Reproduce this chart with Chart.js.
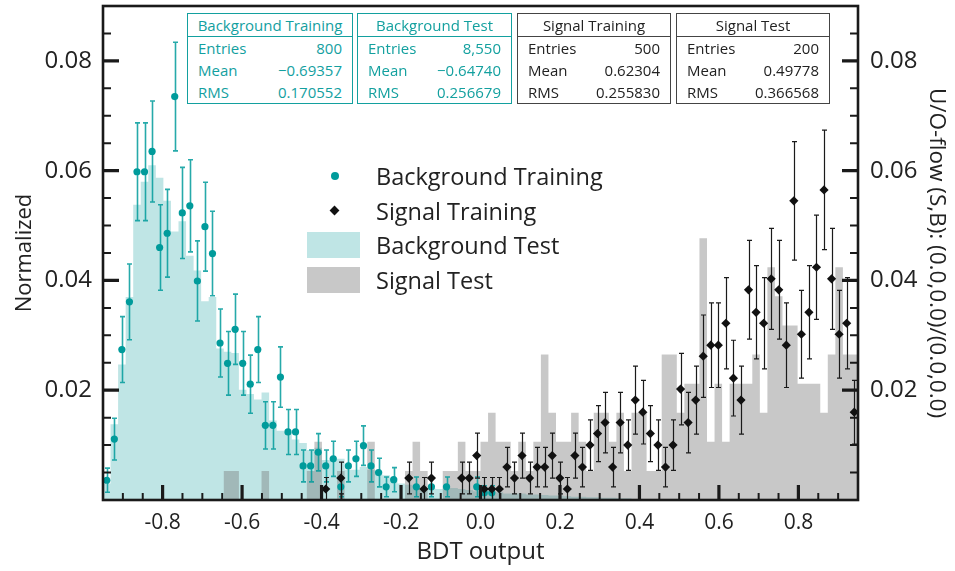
<!DOCTYPE html>
<html>
<head>
<meta charset="utf-8">
<script src="https://cdn.jsdelivr.net/npm/chart.js@4.4.1/dist/chart.umd.min.js"></script>
<style>
  body { margin: 0; background: #fff; }
  #wrap { position: relative; width: 955px; height: 571px; font-family: "Open Sans", sans-serif; color: #222; }
  #c { position: absolute; left: 0; top: 0; }
  .stat { position: absolute; top: 13px; height: 91px; box-sizing: border-box; background: #fff; font-size: 15px; line-height: 1; }
  .stat .hd { height: 23px; box-sizing: border-box; text-align: center; line-height: 22px; }
  .stat .row { display: flex; justify-content: space-between; height: 22px; line-height: 22px; padding: 0 10px 0 10px; }
  .teal { border: 1.5px solid #13a09f; color: #13a09f; }
  .teal .hd { border-bottom: 1.5px solid #13a09f; }
  .dark { border: 1.5px solid #444; color: #222; }
  .dark .hd { border-bottom: 1.5px solid #444; }
  .leg { position: absolute; left: 376px; font-size: 23.5px; line-height: 26px; height: 26px; color: #222; white-space: nowrap; }
  .mk { position: absolute; }
</style>
</head>
<body>
<div id="wrap">
  <canvas id="c" width="955" height="571"></canvas>

  <div class="stat teal" style="left:187px;width:166px;">
    <div class="hd">Background Training</div>
    <div class="row"><span>Entries</span><span>800</span></div>
    <div class="row"><span>Mean</span><span>&minus;0.69357</span></div>
    <div class="row"><span>RMS</span><span>0.170552</span></div>
  </div>
  <div class="stat teal" style="left:357px;width:155px;">
    <div class="hd">Background Test</div>
    <div class="row"><span>Entries</span><span>8,550</span></div>
    <div class="row"><span>Mean</span><span>&minus;0.64740</span></div>
    <div class="row"><span>RMS</span><span>0.256679</span></div>
  </div>
  <div class="stat dark" style="left:517px;width:154px;">
    <div class="hd">Signal Training</div>
    <div class="row"><span>Entries</span><span>500</span></div>
    <div class="row"><span>Mean</span><span>0.62304</span></div>
    <div class="row"><span>RMS</span><span>0.255830</span></div>
  </div>
  <div class="stat dark" style="left:676px;width:154px;">
    <div class="hd">Signal Test</div>
    <div class="row"><span>Entries</span><span>200</span></div>
    <div class="row"><span>Mean</span><span>0.49778</span></div>
    <div class="row"><span>RMS</span><span>0.366568</span></div>
  </div>

  <div class="mk" style="left:331px;top:172px;width:8px;height:8px;border-radius:50%;background:#009b9b;"></div>
  <div class="leg" style="top:163px;">Background Training</div>
  <div class="mk" style="left:331px;top:207px;width:7px;height:7px;background:#111;transform:rotate(45deg);"></div>
  <div class="leg" style="top:198px;">Signal Training</div>
  <div class="mk" style="left:307px;top:232px;width:53px;height:26px;background:rgba(0,150,150,0.25);"></div>
  <div class="leg" style="top:232px;">Background Test</div>
  <div class="mk" style="left:307px;top:267px;width:53px;height:26px;background:rgba(110,110,110,0.38);"></div>
  <div class="leg" style="top:267px;">Signal Test</div>
</div>

<script>
//Histogram binning of the BDT output
const xMin = -0.95;
const xMax = 0.95;
const binWidth = 0.019;

//Tick labels
const xTickValues = [-0.8, -0.6, -0.4, -0.2, 0, 0.2, 0.4, 0.6, 0.8];
const yTickValues = [0.02, 0.04, 0.06, 0.08];

//Background test (filled teal histogram), one value per bin
const bgTest = [
  0.003, 0.0138, 0.0247, 0.037, 0.0538, 0.058, 0.061, 0.0587, 0.0545, 0.0489,
  0.0508, 0.0445, 0.0418, 0.0362, 0.037, 0.0276, 0.027, 0.0268, 0.0201, 0.0193,
  0.0183, 0.0196, 0.0145, 0.0126, 0.0125, 0.011, 0.0104, 0.0091, 0.0095, 0.0073,
  0.0076, 0.0075, 0.0055, 0.0055, 0.006, 0.0055, 0.0053, 0.0045, 0.004, 0.003,
  0.0028, 0.0025, 0.0022, 0.0022, 0.002, 0.0025, 0.0022, 0.002, 0.0018, 0.0016,
  0.0015, 0.0015, 0.0014, 0.0012, 0.0012, 0.0012, 0.001, 0.001, 0.0009, 0.0008,
  0.0008, 0.0007, 0.0006, 0.0006, 0.0005, 0.0005, 0.0004, 0.0004, 0.0003, 0.0003,
  0.0002, 0.0001, 0.0001, 0.0001, 0.0001, 0, 0, 0, 0, 0,
  0, 0, 0, 0, 0, 0, 0, 0, 0, 0,
  0, 0, 0, 0, 0, 0, 0, 0, 0, 0
];

//Signal test (filled grey histogram)
const sigTest = [
  0, 0, 0, 0, 0, 0, 0, 0, 0, 0,
  0, 0, 0, 0, 0, 0, 0.0053, 0.0053, 0, 0,
  0, 0.0053, 0, 0, 0, 0, 0, 0.0053, 0.0106, 0,
  0, 0.0053, 0, 0, 0, 0.0106, 0, 0, 0, 0,
  0.0053, 0.0106, 0.0053, 0, 0, 0.0053, 0.0053, 0.0106, 0.0053, 0.0053,
  0.0106, 0.0159, 0.0106, 0.0106, 0.0053, 0.0106, 0.0053, 0.0106, 0.0265, 0.0159,
  0.0106, 0.0106, 0.0159, 0.0106, 0.0053, 0.0159, 0.0159, 0.0106, 0.0159, 0.0053,
  0.0159, 0.0159, 0.0053, 0.0053, 0.0265, 0.0265, 0.0159, 0.0212, 0.0212, 0.0477,
  0.0106, 0.0212, 0.0106, 0.0212, 0.0212, 0.0212, 0.0265, 0.0159, 0.0424, 0.0371,
  0.0318, 0.0318, 0.0212, 0.0212, 0.0212, 0.0159, 0.0265, 0.0424, 0.0265, 0.0265
];

//Background training (teal points), null = empty bin
const bgTrain = [
  0.0036, 0.0111, 0.0274, 0.0361, 0.0598, 0.0598, 0.0635, 0.046, 0.0486, 0.0735,
  0.0523, 0.0536, 0.0399, 0.0498, 0.0449, 0.0286, 0.0249, 0.0311, 0.0249, 0.0211,
  0.0274, 0.0136, 0.0136, 0.0224, 0.0124, 0.0124, 0.0062, 0.0062, 0.0087, 0.0062,
  0.0075, 0.0024, 0.0062, 0.0075, 0.0099, 0.0062, 0.005, 0.0024, 0.0037, null,
  null, 0.0024, null, 0.0024, null, 0.0024, null, null, null, 0.0024,
  0.0013, 0.0013, null, null, null, null, null, null, null, null,
  null, null, null, null, null, null, null, null, null, null,
  null, null, null, null, null, null, null, null, null, null,
  null, null, null, null, null, null, null, null, null, null,
  null, null, null, null, null, null, null, null, null, null
];
const bgTrainErr = [
  0.0022, 0.0038, 0.006, 0.0069, 0.0089, 0.0089, 0.0092, 0.0078, 0.008, 0.0099,
  0.0083, 0.0084, 0.0073, 0.0081, 0.0077, 0.0062, 0.0058, 0.0064, 0.0058, 0.0053,
  0.006, 0.0043, 0.0043, 0.0055, 0.0041, 0.0041, 0.0029, 0.0029, 0.0034, 0.0029,
  0.0032, 0.0018, 0.0029, 0.0032, 0.0036, 0.0029, 0.0026, 0.0018, 0.0022, null,
  null, 0.0018, null, 0.0018, null, 0.0018, null, null, null, 0.0018,
  0.0013, 0.0013, null, null, null, null, null, null, null, null,
  null, null, null, null, null, null, null, null, null, null,
  null, null, null, null, null, null, null, null, null, null,
  null, null, null, null, null, null, null, null, null, null,
  null, null, null, null, null, null, null, null, null, null
];

//Signal training (black diamonds)
const sigTrain = [
  null, null, null, null, null, null, null, null, null, null,
  null, null, null, null, null, null, null, null, null, null,
  null, null, null, null, null, null, null, null, null, 0.002,
  null, 0.004, null, null, null, null, null, null, null, null,
  0.004, null, 0.002, 0.004, null, null, null, 0.004, 0.004, 0.0081,
  0.002, 0.002, 0.002, 0.006, 0.004, 0.0081, 0.004, 0.006, 0.006, 0.0081,
  0.004, 0.002, 0.0081, 0.006, 0.01, 0.0121, 0.0141, 0.006, 0.0141, 0.01,
  0.0182, 0.016, 0.0121, 0.01, 0.006, 0.01, 0.0202, 0.0141, 0.0182, 0.0262,
  0.0282, 0.0282, 0.0322, 0.0222, 0.0182, 0.0383, 0.0342, 0.0322, 0.0403, 0.0383,
  0.0282, 0.0545, 0.0302, 0.0342, 0.0424, 0.0565, 0.0403, 0.0302, 0.0322, 0.016
];
const sigTrainErr = [
  null, null, null, null, null, null, null, null, null, null,
  null, null, null, null, null, null, null, null, null, null,
  null, null, null, null, null, null, null, null, null, 0.0021,
  null, 0.0029, null, null, null, null, null, null, null, null,
  0.0029, null, 0.0021, 0.0029, null, null, null, 0.0029, 0.0029, 0.0041,
  0.0021, 0.0021, 0.0021, 0.0036, 0.0029, 0.0041, 0.0029, 0.0036, 0.0036, 0.0041,
  0.0029, 0.0021, 0.0041, 0.0036, 0.0046, 0.0051, 0.0055, 0.0036, 0.0055, 0.0046,
  0.0062, 0.0058, 0.0051, 0.0046, 0.0036, 0.0046, 0.0065, 0.0055, 0.0062, 0.0075,
  0.0077, 0.0077, 0.0083, 0.0069, 0.0062, 0.009, 0.0085, 0.0083, 0.0092, 0.009,
  0.0077, 0.0108, 0.008, 0.0085, 0.0095, 0.0109, 0.0092, 0.008, 0.0083, 0.0058
];

//Histogram outline points (left bin edges plus closing edge)
function histPoints(values) {
  const pts = values.map((v, i) => ({ x: xMin + i * binWidth, y: v }));
  pts.push({ x: xMax, y: values[values.length - 1] });
  return pts;
}

//Points at bin centres, skipping empty bins
function binPoints(values, errors) {
  const pts = [];
  const errs = [];
  values.forEach((v, i) => {
    if (v === null) return;
    pts.push({ x: xMin + (i + 0.5) * binWidth, y: v });
    errs.push(errors[i]);
  });
  return { pts, errs };
}

const bgTrainPts = binPoints(bgTrain, bgTrainErr);
const sigTrainPts = binPoints(sigTrain, sigTrainErr);

//Error bars drawn just before their markers
const errorBars = {
  id: "errorBars",
  beforeDatasetDraw(chart, args) {
    const ds = chart.data.datasets[args.index];
    if (!ds.errors) return;
    const { ctx, chartArea, scales } = chart;
    const x = scales.x;
    const y = scales.y;
    ctx.save();
    ctx.beginPath();
    ctx.rect(chartArea.left, chartArea.top, chartArea.right - chartArea.left, chartArea.bottom - chartArea.top);
    ctx.clip();
    ctx.strokeStyle = ds.errorColor;
    ctx.lineWidth = ds.errorWidth;
    ds.data.forEach((p, k) => {
      const e = ds.errors[k];
      const px = Math.round(x.getPixelForValue(p.x)) + 0.5;
      const lo = y.getPixelForValue(Math.max(p.y - e, 0));
      const hi = y.getPixelForValue(p.y + e);
      ctx.beginPath();
      ctx.moveTo(px, lo);
      ctx.lineTo(px, hi);
      ctx.moveTo(px - 2.5, hi);
      ctx.lineTo(px + 2.5, hi);
      if (p.y - e > 0) {
        ctx.moveTo(px - 2.5, lo);
        ctx.lineTo(px + 2.5, lo);
      }
      ctx.stroke();
    });
    ctx.restore();
  },
};

//Frame with inward ticks (ROOT style)
const frameTicks = {
  id: "frameTicks",
  afterDraw(chart) {
    const { ctx, chartArea: a, scales } = chart;
    const x = scales.x;
    const y = scales.y;
    ctx.save();
    ctx.strokeStyle = "#1a1a1a";
    //x ticks every 0.05, long at labels
    for (let k = -18; k <= 18; k++) {
      const v = k * 0.05;
      const major = k % 4 === 0;
      const px = x.getPixelForValue(v);
      ctx.lineWidth = major ? 3.2 : 2;
      ctx.beginPath();
      ctx.moveTo(px, a.bottom);
      ctx.lineTo(px, a.bottom - (major ? 15 : 7));
      ctx.stroke();
    }
    //y ticks every 0.005 on both sides
    for (let k = 1; k <= 18; k++) {
      const v = k * 0.005;
      const major = k % 4 === 0;
      const py = y.getPixelForValue(v);
      ctx.lineWidth = major ? 3.2 : 2;
      ctx.beginPath();
      ctx.moveTo(a.left, py);
      ctx.lineTo(a.left + (major ? 16 : 8), py);
      ctx.moveTo(a.right, py);
      ctx.lineTo(a.right - (major ? 16 : 8), py);
      ctx.stroke();
    }
    ctx.lineWidth = 2.6;
    ctx.strokeRect(a.left, a.top, a.right - a.left, a.bottom - a.top);
    ctx.restore();
  },
};

//Fixed box sizes so the plot frame lands where the original has it
function fixWidth(w) {
  return (s) => { s.width = w; s.paddingTop = 0; s.paddingBottom = 0; };
}

const tickFont = { family: "Open Sans", size: 24 };

const config = {
  data: {
    datasets: [
      {
        type: "line",
        label: "Background Test",
        data: histPoints(bgTest),
        stepped: "before",
        fill: "origin",
        backgroundColor: "rgba(0, 150, 150, 0.25)",
        borderColor: "rgba(0, 0, 0, 0)",
        borderWidth: 0,
        pointRadius: 0,
        order: 4,
      },
      {
        type: "line",
        label: "Signal Test",
        data: histPoints(sigTest),
        stepped: "before",
        fill: "origin",
        backgroundColor: "rgba(110, 110, 110, 0.38)",
        borderColor: "rgba(0, 0, 0, 0)",
        borderWidth: 0,
        pointRadius: 0,
        order: 3,
      },
      {
        type: "scatter",
        label: "Background Training",
        data: bgTrainPts.pts,
        errors: bgTrainPts.errs,
        errorColor: "rgba(0, 155, 155, 0.85)",
        errorWidth: 1.6,
        pointStyle: "circle",
        pointRadius: 3.6,
        backgroundColor: "#009b9b",
        borderWidth: 0,
        order: 2,
      },
      {
        type: "scatter",
        label: "Signal Training",
        data: sigTrainPts.pts,
        errors: sigTrainPts.errs,
        errorColor: "#1a1a1a",
        errorWidth: 1.2,
        pointStyle: "rectRot",
        pointRadius: 4.6,
        backgroundColor: "#111",
        borderWidth: 0,
        order: 1,
      },
    ],
  },
  options: {
    responsive: false,
    animation: false,
    devicePixelRatio: 1,
    layout: { padding: { top: 6 } },
    plugins: { legend: { display: false }, tooltip: { enabled: false } },
    scales: {
      x: {
        type: "linear",
        min: xMin,
        max: xMax,
        grid: { display: false, drawTicks: false },
        border: { display: false },
        afterBuildTicks: (s) => { s.ticks = xTickValues.map((v) => ({ value: v })); },
        afterFit: (s) => { s.height = 71; s.paddingLeft = 0; s.paddingRight = 0; },
        ticks: { font: { family: "Open Sans", size: 21 }, color: "#222", padding: 10, maxRotation: 0,
          callback: (v) => Number(v).toFixed(1) },
        title: { display: true, text: "BDT output", color: "#222", font: { family: "Open Sans", size: 24 }, padding: { top: 0, bottom: 4 } },
      },
      y: {
        type: "linear",
        position: "left",
        min: 0,
        max: 0.09,
        grid: { display: false, drawTicks: false },
        border: { display: false },
        afterBuildTicks: (s) => { s.ticks = yTickValues.map((v) => ({ value: v })); },
        afterFit: fixWidth(103),
        ticks: { font: tickFont, color: "#222", padding: 11, callback: (v) => Number(v).toFixed(2) },
        title: { display: true, text: "Normalized", color: "#222", font: { family: "Open Sans", size: 22 }, padding: { top: 12, bottom: 0 } },
      },
      y2: {
        type: "linear",
        position: "right",
        min: 0,
        max: 0.09,
        grid: { display: false, drawTicks: false },
        border: { display: false },
        afterBuildTicks: (s) => { s.ticks = yTickValues.map((v) => ({ value: v })); },
        afterFit: fixWidth(97),
        ticks: { font: tickFont, color: "#222", padding: 12, callback: (v) => Number(v).toFixed(2) },
        title: { display: true, text: "U/O-flow (S,B): (0.0,0.0)/(0.0,0.0)", color: "#222", font: { family: "Open Sans", size: 22.5 }, padding: { top: 5, bottom: 0 } },
      },
    },
  },
  plugins: [errorBars, frameTicks],
};

new Chart(document.getElementById("c").getContext("2d"), config);
</script>
</body>
</html>
